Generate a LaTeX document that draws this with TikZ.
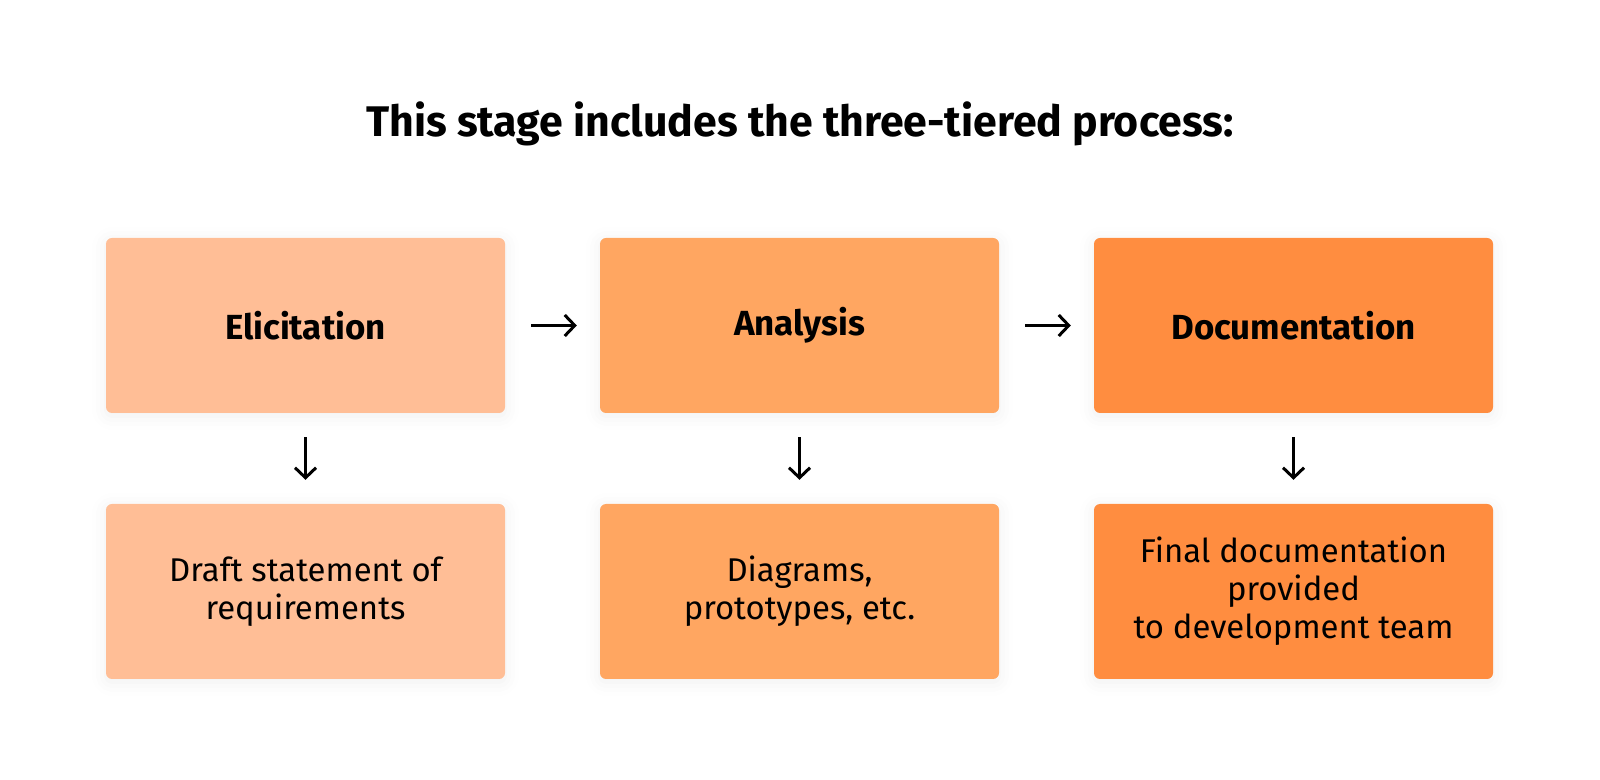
\documentclass[tikz,border=0pt]{standalone}
\usepackage{fontspec}
\setmainfont{Fira Sans}
\usetikzlibrary{arrows.meta,shadows.blur}
\definecolor{peachA}{RGB}{255,190,150}
\definecolor{peachB}{RGB}{255,166,97}
\definecolor{peachC}{RGB}{255,141,64}
\begin{document}
\begin{tikzpicture}[>={Straight Barb[length=10bp,width=21bp]},line join=bevel,
  stage/.style={draw=none,rounded corners=6bp,minimum width=399bp,minimum height=175bp,inner sep=0pt,
    blur shadow={shadow xshift=0bp,shadow yshift=-3bp,shadow blur radius=14bp,shadow opacity=6}},
  head/.style={stage,font=\fontsize{35}{42}\selectfont\bfseries},
  outcome/.style={stage,align=center,font=\fontsize{33}{38}\selectfont},
  flow/.style={black,line width=3bp,->}]
\useasboundingbox (0bp,0bp) rectangle (1600bp,780bp);
%%
\node (title) at (800bp,656bp) [font=\fontsize{43}{50}\selectfont\bfseries] {This stage includes the three-tiered process:};
%
\node (elicit) at (305.5bp,454.5bp) [head,fill=peachA] {Elicitation};
  \node (analysis) at (799.5bp,454.5bp) [head,fill=peachB] {Analysis};
  \node (docu) at (1293.5bp,454.5bp) [head,fill=peachC] {Documentation};
\node (draft) at (305.5bp,188.5bp) [outcome,fill=peachA] {Draft statement of\\requirements};
  \node (diagrams) at (799.5bp,188.5bp) [outcome,fill=peachB] {Diagrams,\\prototypes, etc.};
  \node (final) at (1293.5bp,188.5bp) [outcome,fill=peachC] {Final documentation\\provided\\to development team};
%
\draw [flow,shorten <=26bp,shorten >=23bp] (elicit) -- (analysis);
  \draw [flow,shorten <=26bp,shorten >=23bp] (analysis) -- (docu);
  \draw [flow,shorten <=24bp,shorten >=24bp] (elicit) -- (draft);
  \draw [flow,shorten <=24bp,shorten >=24bp] (analysis) -- (diagrams);
  \draw [flow,shorten <=24bp,shorten >=24bp] (docu) -- (final);
%
\end{tikzpicture}
\end{document}
